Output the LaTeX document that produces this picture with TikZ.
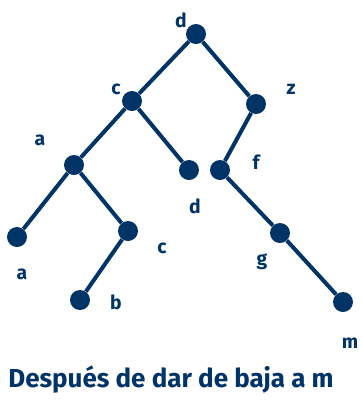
\documentclass[tikz,border=0pt]{standalone}
\usepackage{fontspec}
\setmainfont{Fira Sans}
\usepackage{xcolor}
\usetikzlibrary{positioning}
\definecolor{navy}{RGB}{0,51,102}

\begin{document}
\begin{tikzpicture}[x=0.75pt, y=-0.75pt,
  vertex/.style={circle, fill=navy, inner sep=0pt, minimum size=15pt},
  tag/.style={font=\bfseries\fontsize{14.5}{16}\selectfont, text=navy, inner sep=0pt},
  edge/.style={draw=navy, line width=3pt},
]
\useasboundingbox (0,0) rectangle (362,401);

% tree nodes
\node[vertex] (d)  at (196,34)  {};
\node[vertex] (c)  at (132,101) {};
\node[vertex] (z)  at (256,104) {};
\node[vertex] (a)  at (74,165)  {};
\node[vertex] (d2) at (189,170) {};
\node[vertex] (f)  at (220,170) {};
\node[vertex] (a2) at (17,237)  {};
\node[vertex] (c2) at (128,231) {};
\node[vertex] (g)  at (280,233) {};
\node[vertex] (b)  at (80,300)  {};
\node[vertex] (m)  at (343,302) {};

% edges
\draw[edge] (d) -- (c);
\draw[edge] (d) -- (z);
\draw[edge] (c) -- (a);
\draw[edge] (c) -- (d2);
\draw[edge] (z) -- (f);
\draw[edge] (a) -- (a2);
\draw[edge] (a) -- (c2);
\draw[edge] (f) -- (g);
\draw[edge] (g) -- (m);
\draw[edge] (c2) -- (b);

% labels
\node[tag] (ld)  at (181,20)  {d};
\node[tag] (lc)  at (116,89)  {c};
\node[tag] (lz)  at (291,89)  {z};
\node[tag] (la)  at (40,140)  {a};
\node[tag] (ld2) at (195,206) {d};
\node[tag] (lf)  at (256,162) {f};
\node[tag] (la2) at (22,274)  {a};
\node[tag] (lc2) at (162,248) {c};
\node[tag] (lg)  at (262,262) {g};
\node[tag] (lb)  at (116,302) {b};
\node[tag] (lm)  at (350,343) {m};

\node[font=\bfseries\fontsize{19.5}{22}\selectfont, text=navy, inner sep=0pt] (caption) at (171,380) {Después de dar de baja a m};
\end{tikzpicture}
\end{document}
